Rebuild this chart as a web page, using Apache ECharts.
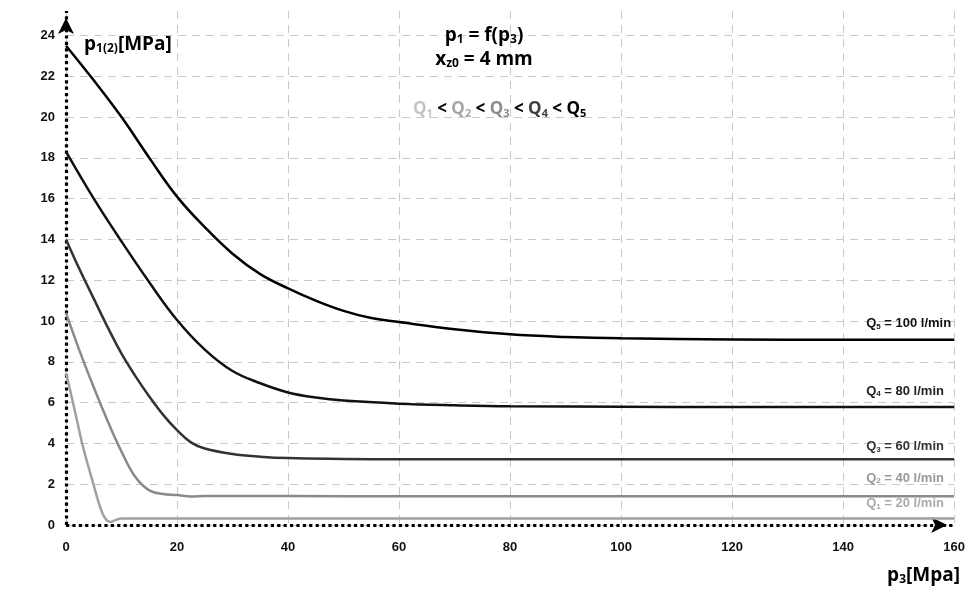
<!DOCTYPE html>
<html><head><meta charset="utf-8">
<script src="https://cdn.jsdelivr.net/npm/echarts@6/dist/echarts.min.js"></script>
<style>html,body{margin:0;padding:0;background:#fff}#c{width:968px;height:590px}</style>
</head><body><div id="c"></div>
<script>
// Data (p3 in MPa, p1(2) in MPa)
const xTicks = [0, 20, 40, 60, 80, 100, 120, 140, 160];
const yTicks = [0, 2, 4, 6, 8, 10, 12, 14, 16, 18, 20, 22, 24];

const q5X = [0, 5, 10, 15, 20, 25, 30, 35, 40, 45, 50, 55, 60, 70, 80, 90, 100, 120, 140, 160];
const q5Y = [23.5, 21.8, 20.0, 18.0, 16.1, 14.6, 13.3, 12.3, 11.6, 11.0, 10.5, 10.15, 9.95, 9.6, 9.35, 9.22, 9.15, 9.1, 9.08, 9.08];

const q4X = [0, 5, 10, 15, 20, 25, 30, 35, 40, 45, 50, 60, 70, 80, 100, 120, 140, 160];
const q4Y = [18.3, 16.0, 13.9, 11.9, 10.05, 8.6, 7.55, 6.95, 6.5, 6.25, 6.1, 5.95, 5.87, 5.82, 5.8, 5.78, 5.78, 5.78];

const q3X = [0, 2.5, 5, 7.5, 10, 12.5, 15, 17.5, 20, 22.5, 25, 30, 35, 40, 50, 60, 80, 100, 120, 140, 160];
const q3Y = [14.0, 12.5, 11.1, 9.7, 8.4, 7.3, 6.3, 5.4, 4.65, 4.05, 3.75, 3.48, 3.35, 3.28, 3.24, 3.22, 3.22, 3.22, 3.22, 3.22, 3.22];

const q2X = [0, 2.5, 5, 7.5, 10, 12.5, 15, 17.5, 20, 22.5, 25, 30, 40, 60, 80, 100, 120, 140, 160];
const q2Y = [10.4, 8.5, 6.75, 5.1, 3.6, 2.35, 1.7, 1.52, 1.47, 1.4, 1.42, 1.42, 1.42, 1.41, 1.41, 1.41, 1.41, 1.41, 1.41];

const q1X = [0, 1, 2, 3, 4, 5, 6, 7, 8, 9, 10, 15, 20, 40, 60, 80, 100, 120, 140, 160];
const q1Y = [7.45, 6.3, 5.1, 3.9, 2.9, 1.95, 1.0, 0.35, 0.15, 0.25, 0.32, 0.32, 0.32, 0.32, 0.32, 0.32, 0.32, 0.32, 0.32, 0.32];

const seriesNames = ['Q1', 'Q2', 'Q3', 'Q4', 'Q5'];
const seriesFlows = ['20', '40', '60', '80', '100'];

const zip = (xs, ys) => xs.map((x, i) => [x, ys[i]]);
const allX = [q1X, q2X, q3X, q4X, q5X];
const allY = [q1Y, q2Y, q3Y, q4Y, q5Y];
const lineColors = ['#a0a0a0', '#8a8a8a', '#333333', '#111111', '#000000'];
const labelColors = ['#aaaaaa', '#999999', '#333333', '#222222', '#111111'];
const labelOffsetY = [-15, -18, -13, -16, -16];

const FONT = 'Liberation Sans, Arial, sans-serif';
const TFONT = 'Open Sans, Noto Sans, sans-serif';

const series = allX.map((xs, i) => ({
  name: seriesNames[i],
  type: 'line',
  data: zip(xs, allY[i]),
  smooth: 0.4,
  showSymbol: false,
  lineStyle: { color: lineColors[i], width: 2.5 },
  z: 3,
  endLabel: {
    show: true,
    align: 'left',
    offset: [-96, labelOffsetY[i]],
    formatter: '{b|Q}{s|' + (i + 1) + '}{b| = ' + seriesFlows[i] + ' l/min}',
    rich: {
      b: { fontFamily: FONT, fontWeight: 'bold', fontSize: 13, color: labelColors[i] },
      s: { fontFamily: FONT, fontWeight: 'bold', fontSize: 8, color: labelColors[i], padding: [6, 0, 0, 0] }
    }
  }
}));

const qColors = ['#c4c4c4', '#a6a6a6', '#8c8c8c', '#404040', '#000000'];
let qText = '';
const qRich = {
  lt: { fontFamily: TFONT, fontWeight: 'bold', fontSize: 17, color: '#000' }
};
seriesNames.forEach((n, i) => {
  qRich['q' + i] = { fontFamily: TFONT, fontWeight: 'bold', fontSize: 17, color: qColors[i] };
  qRich['s' + i] = { fontFamily: TFONT, fontWeight: 'bold', fontSize: 11, color: qColors[i], padding: [8, 0, 0, 0] };
  qText += '{q' + i + '|Q}{s' + i + '|' + (i + 1) + '}' + (i < 4 ? '{lt| < }' : '');
});

const bigRich = {
  a: { fontFamily: TFONT, fontWeight: 'bold', fontSize: 19, color: '#000' },
  s: { fontFamily: TFONT, fontWeight: 'bold', fontSize: 12, color: '#000', padding: [9, 0, 0, 0] }
};

const axisLineStyle = { color: '#000', width: 3.2, type: 'dotted', cap: 'butt' };

const chart = echarts.init(document.getElementById('c'), null, { renderer: 'canvas' });
chart.setOption({
  animation: false,
  backgroundColor: '#fff',
  grid: { left: 66, right: 13, top: 11, bottom: 65 },
  title: [
    { text: '{a|p}{s|1}{a| = f(p}{s|3}{a|)}', left: 'center', top: 20, textStyle: { rich: bigRich } },
    { text: '{a|x}{s|z0}{a| = 4 mm}', left: 'center', top: 44, textStyle: { rich: bigRich } },
    { text: qText, left: 408, top: 95, textStyle: { rich: qRich } },
    { text: '{a|p}{s|1(2)}{a|[MPa]}', left: 79, top: 29, textStyle: { rich: bigRich } },
    { text: '{a|p}{s|3}{a|[Mpa]}', right: 3, top: 560, textStyle: { rich: bigRich } }
  ],
  xAxis: {
    type: 'value', min: 0, max: 160, interval: 20,
    axisLine: { show: true, symbol: ['none', 'arrow'], symbolSize: [12, 16], symbolOffset: [0, -7],
      lineStyle: axisLineStyle },
    axisTick: { show: false },
    axisLabel: { margin: 16, fontFamily: FONT, fontWeight: 'bold', fontSize: 13, color: '#111' },
    splitLine: { show: true, lineStyle: { color: '#c8c8c8', width: 1, type: [8, 6] } }
  },
  yAxis: {
    type: 'value', min: 0, max: 25.2, interval: 2,
    axisLine: { show: true, onZero: false, symbol: ['none', 'arrow'], symbolSize: [12, 16], symbolOffset: [0, -7],
      lineStyle: axisLineStyle },
    axisTick: { show: false },
    axisLabel: { margin: 11, showMaxLabel: false, fontFamily: FONT, fontWeight: 'bold', fontSize: 13, color: '#111' },
    splitLine: { show: true, showMaxLine: false, lineStyle: { color: '#c8c8c8', width: 1, type: [8, 6] } }
  },
  series: series
});
</script></body></html>
